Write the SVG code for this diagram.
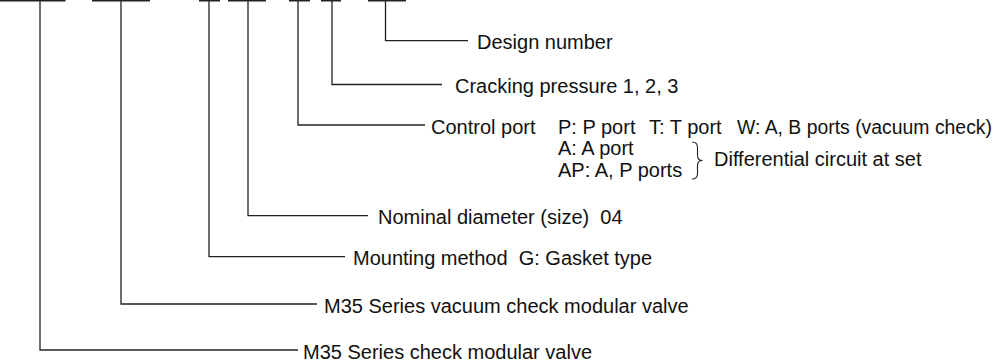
<svg xmlns="http://www.w3.org/2000/svg" width="1003" height="362" viewBox="0 0 1003 362">
<style>
.c{fill:none;stroke:#222;stroke-width:1.3}
.b{fill:none;stroke:#222;stroke-width:1.6}
.t{font-family:"Liberation Sans",Arial,Helvetica,sans-serif;font-size:20px;fill:#111}
</style>
<rect width="1003" height="362" fill="#fff"/>
<g id="code-bars">
<path class="b" d="M0,0.8H65.5M92,0.8H150M199,0.8H220M228,0.8H266M289,0.8H310M321,0.8H341M368,0.8H406"/>
</g>
<g id="connectors">
<polyline class="c" points="385.5,0 385.5,40.7 468,40.7"/>
<polyline class="c" points="332,0 332,84.5 442,84.5"/>
<polyline class="c" points="298,0 298,125 425,125"/>
<polyline class="c" points="248,0 248,215.7 368,215.7"/>
<polyline class="c" points="209,0 209,256.7 345,256.7"/>
<polyline class="c" points="121,0 121,304 317,304"/>
<polyline class="c" points="40,0 40,350 298,350"/>
</g>
<g id="design-number"><text class="t" x="477" y="49">Design number</text></g>
<g id="cracking-pressure"><text class="t" x="455" y="93">Cracking pressure 1, 2, 3</text></g>
<g id="control-port">
<text class="t" x="431" y="133.5">Control port</text>
<text class="t" x="558" y="133.5">P: P port</text>
<text class="t" x="649" y="133.5">T: T port</text>
<text class="t" x="737" y="133.5" textLength="255" lengthAdjust="spacingAndGlyphs">W: A, B ports (vacuum check)</text>
<text class="t" x="558" y="155">A: A port</text>
<text class="t" x="558" y="176.5">AP: A, P ports</text>
<path class="c" style="stroke-width:1.1" d="M692,142 Q697.5,142 697.5,147.5 L697.5,155.5 Q697.5,160.5 702.5,160.5 Q697.5,160.5 697.5,165.5 L697.5,173.5 Q697.5,179 692,179"/>
<text class="t" x="714" y="166">Differential circuit at set</text>
</g>
<g id="nominal-diameter"><text class="t" x="378" y="224" xml:space="preserve">Nominal diameter (size)  04</text></g>
<g id="mounting-method"><text class="t" x="353" y="265" xml:space="preserve">Mounting method  G: Gasket type</text></g>
<g id="vacuum-check-valve"><text class="t" x="324" y="312.5">M35 Series vacuum check modular valve</text></g>
<g id="check-valve"><text class="t" x="303" y="358.5">M35 Series check modular valve</text></g>
</svg>
